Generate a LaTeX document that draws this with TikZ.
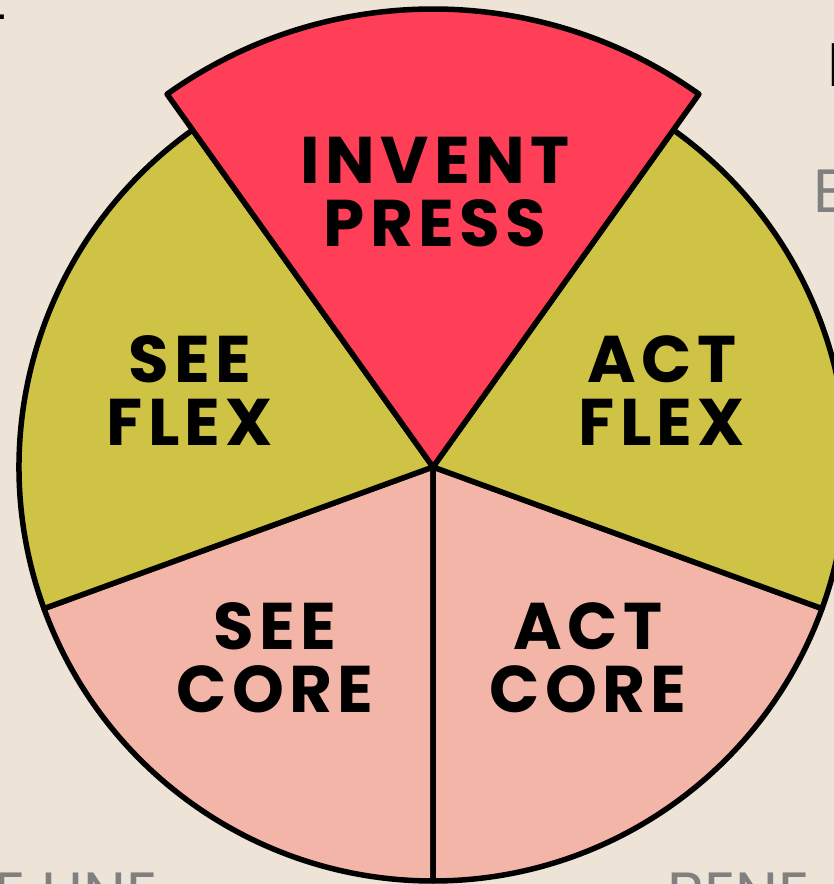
\documentclass[tikz,border=0pt]{standalone}
\usepackage{fontspec}
\setmainfont{Poppins}
\usetikzlibrary{positioning}

\definecolor{cream}{RGB}{237,228,215}
\definecolor{inventred}{RGB}{255,62,88}
\definecolor{flexolive}{RGB}{207,195,69}
\definecolor{corepink}{RGB}{243,181,168}
\definecolor{fadegray}{RGB}{128,128,128}

\begin{document}
\begin{tikzpicture}[x=1pt, y=1pt,
    sector/.style={draw=black, line width=5.5pt, line join=round},
    wheeltext/.style={font=\bfseries\fontsize{66}{63}\selectfont\addfontfeature{LetterSpace=8}, align=center, text=black, inner sep=0pt},
    edgetext/.style={font=\fontsize{61}{61}\selectfont, inner sep=0pt}]
    % Canvas
    \useasboundingbox (0,0) rectangle (834,884);
    \clip (0,0) rectangle (834,884);
    \fill[cream] (0,0) rectangle (834,884);

    % Wheel centre and radii
    \coordinate (O) at (433,417);
    \def\rwheel{414}
    \def\rinvent{458}

    % Lower sectors - core
    \draw[sector, fill=corepink] (O) -- ++(200:\rwheel) arc[start angle=200, end angle=270, radius=\rwheel] -- cycle;
    \draw[sector, fill=corepink] (O) -- ++(270:\rwheel) arc[start angle=270, end angle=340, radius=\rwheel] -- cycle;

    % Side sectors - flex
    \draw[sector, fill=flexolive] (O) -- ++(125.5:\rwheel) arc[start angle=125.5, end angle=200, radius=\rwheel] -- cycle;
    \draw[sector, fill=flexolive] (O) -- ++(340:\rwheel) arc[start angle=340, end angle=414.5, radius=\rwheel] -- cycle;

    % Top sector sticks out of the wheel
    \draw[sector, fill=inventred] (O) -- ++(54.5:\rinvent) arc[start angle=54.5, end angle=125.5, radius=\rinvent] -- cycle;

    % Sector labels
    \node[wheeltext] (invent) at (435,692) {INVENT\\PRESS};
    \node[wheeltext] (seeflex) at (190,493) {SEE\\FLEX};
    \node[wheeltext] (actflex) at (662,493) {ACT\\FLEX};
    \node[wheeltext] (seecore) at (275,226) {SEE\\CORE};
    \node[wheeltext] (actcore) at (588,226) {ACT\\CORE};

    % Cut-off texts at the page edges
    \node[edgetext, anchor=north east, text=black] (topleft) at (7,869) {T};
    \node[edgetext, font=\bfseries\fontsize{61}{61}\selectfont, anchor=north west, text=black] (topright) at (828,841) {I};
    \node[edgetext, anchor=north west, text=fadegray] (rightgray) at (813,714) {E};
    \node[edgetext, anchor=north west, text=fadegray] (bottomleft) at (-6,11) {E LINE};
    \node[edgetext, anchor=north west, text=fadegray] (bottomright) at (667,11) {BENE};
\end{tikzpicture}
\end{document}
